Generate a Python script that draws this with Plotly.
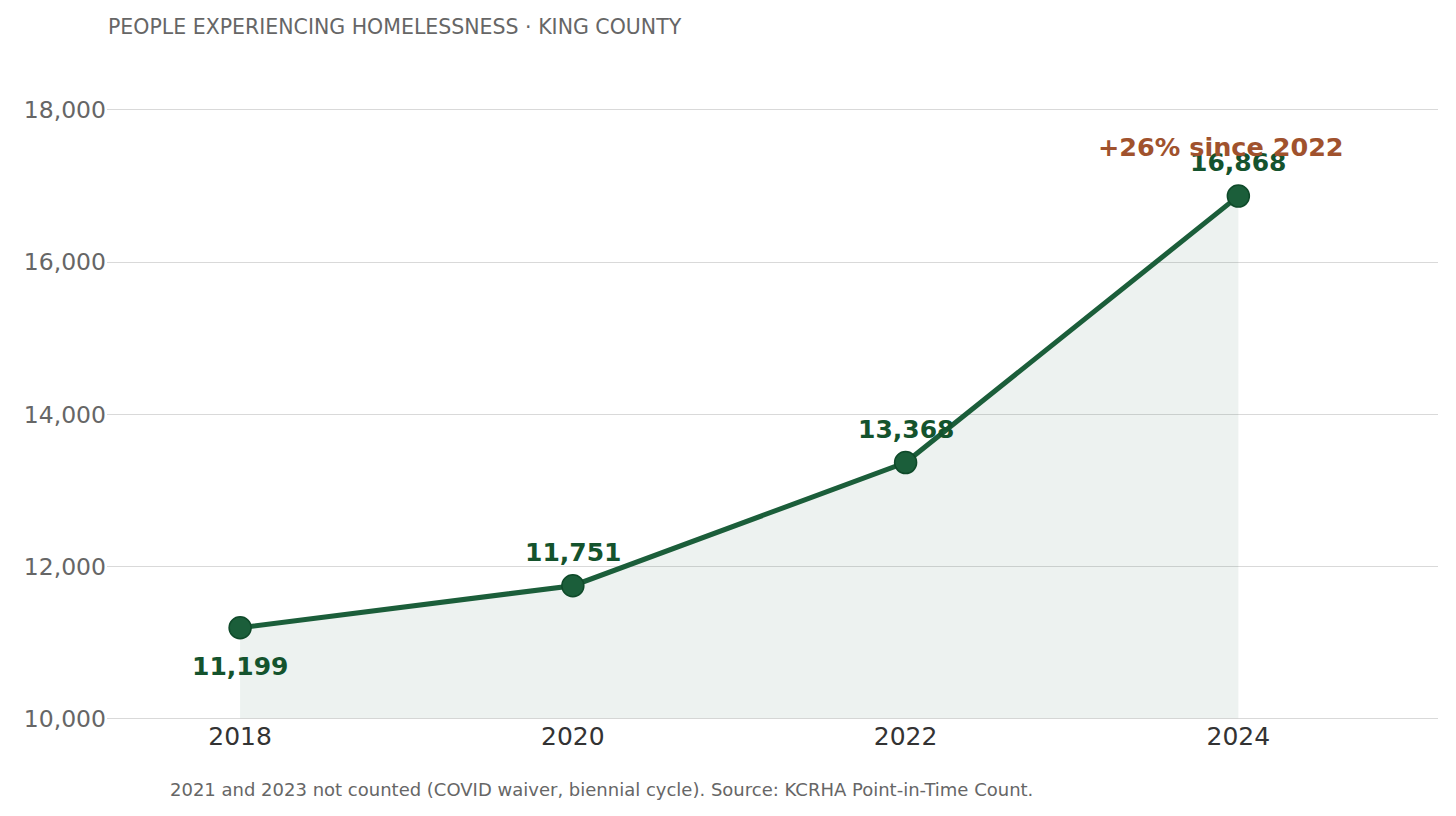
import plotly.graph_objects as go

years = [2018, 2020, 2022, 2024]
counts = [11199, 11751, 13368, 16868]
label_shift = [-39, 33, 33, 34]  # label offset from the point, px (negative = below)
y_ticks = [10000, 12000, 14000, 16000, 18000]
x_ticks = [2018, 2020, 2022, 2024]

green = "#1B5E3A"
font = "DejaVu Sans"

fig = go.Figure()

# soft fill under the line
fig.add_trace(go.Scatter(
    x=years, y=counts, mode="lines", fill="tozeroy",
    fillcolor="rgba(27,94,58,0.078)",
    line=dict(color="rgba(27,94,58,0.16)", width=1.5),
    hoverinfo="skip", showlegend=False))

# main line + markers
fig.add_trace(go.Scatter(
    x=years, y=counts, mode="lines+markers",
    line=dict(color=green, width=5),
    marker=dict(size=22, color=green, line=dict(color="#0F4A2A", width=1.5)),
    showlegend=False))

# value labels
for x, y, s in zip(years, counts, label_shift):
    fig.add_annotation(
        x=x, y=y, text=f"<b>{y:,}</b>", showarrow=False, yshift=s,
        font=dict(family=font, size=25, color="#14532D"))

fig.add_annotation(
    x=years[-1], y=counts[-1], text="<b>+26% since 2022</b>",
    showarrow=False, xshift=-17, yshift=49,
    font=dict(family=font, size=25.5, color="#A0522D"))

fig.update_layout(
    width=1456, height=816,
    margin=dict(l=99, r=26, t=41, b=105),
    plot_bgcolor="white", paper_bgcolor="white",
    font=dict(family=font),
    title=dict(text="PEOPLE EXPERIENCING HOMELESSNESS · KING COUNTY",
               x=100 / 1456, xanchor="left", y=1 - 19 / 816, yanchor="middle",
               font=dict(family=font, size=20.5, color="#666666")),
)

fig.update_xaxes(
    range=[2017.2, 2025.2], tickvals=x_ticks, ticktext=[str(x) for x in x_ticks],
    showgrid=False, zeroline=False, showline=False,
    tickfont=dict(family=font, size=25, color="#333333"), ticks="", ticklen=0)

fig.update_yaxes(
    range=[10000, 18800], tickvals=y_ticks, tickformat=",",
    showgrid=True, gridcolor="#D9D9D9", gridwidth=1,
    zeroline=False, showline=False,
    tickfont=dict(family=font, size=23.5, color="#666666"), ticks="")

fig.add_shape(type="line", xref="paper", yref="y", x0=0, x1=1, y0=10000, y1=10000,
              line=dict(color="#CCCCCC", width=1.5))

fig.add_annotation(
    xref="paper", yref="paper", x=61 / 1331, y=-70 / 670,
    xanchor="left", yanchor="middle", showarrow=False,
    text="2021 and 2023 not counted (COVID waiver, biennial cycle). Source: KCRHA Point-in-Time Count.",
    font=dict(family=font, size=18, color="#666666"))

fig.write_html("out.html")
